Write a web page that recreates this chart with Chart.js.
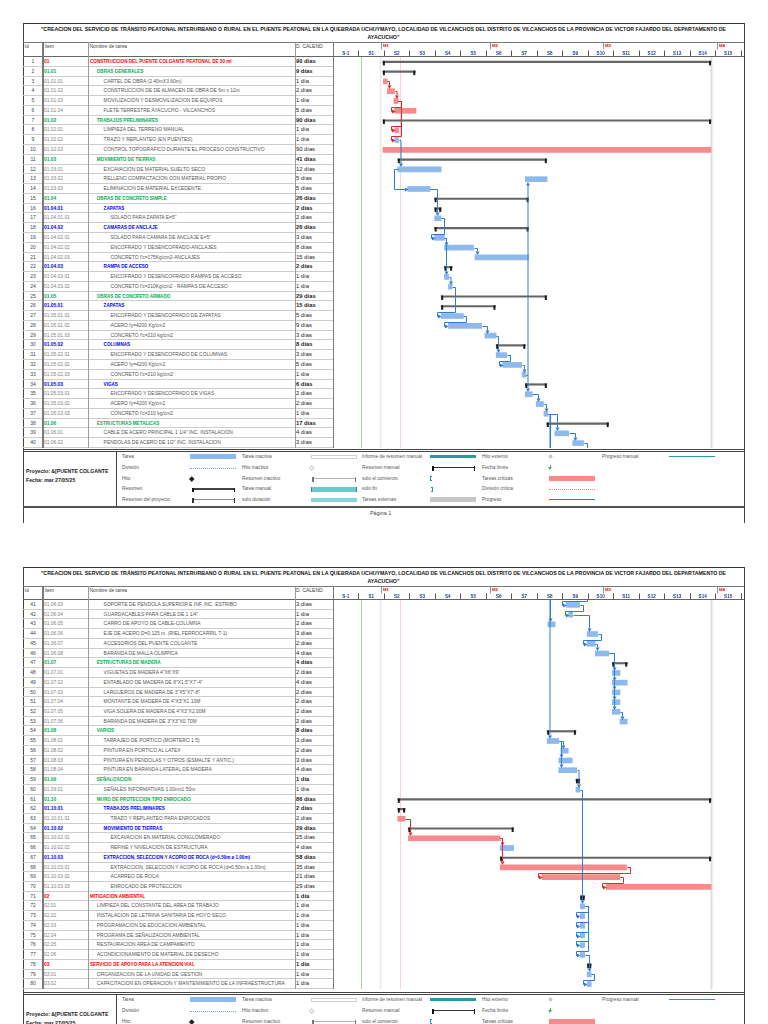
<!DOCTYPE html>
<html lang="es">
<head>
<meta charset="utf-8">
<title>Cronograma - Puente Colgante</title>
<script src="https://cdn.jsdelivr.net/npm/chart.js@4.4.1/dist/chart.umd.min.js"></script>
<style>
  html, body { margin: 0; padding: 0; background: #fff; }
  body { width: 768px; height: 1024px; position: relative; overflow: hidden; font-family: 'Liberation Sans', Arial, sans-serif; color: #333; }
  .a { position: absolute; white-space: nowrap; }
  .ln { position: absolute; }
</style>
</head>
<body>
<script>
// ---- datos del cronograma ----
var taskItems = [
  '01','01.01','01.01.01','01.01.02','01.01.03','01.01.04','01.02','01.02.01','01.02.02','01.02.03',
  '01.03','01.03.01','01.03.02','01.03.03','01.04','01.04.01','01.04.01.01','01.04.02','01.04.02.01','01.04.02.02',
  '01.04.02.03','01.04.03','01.04.03.01','01.04.03.02','01.05','01.05.01','01.05.01.01','01.05.01.02','01.05.01.03','01.05.02',
  '01.05.02.01','01.05.02.02','01.05.02.03','01.05.03','01.05.03.01','01.05.03.02','01.05.03.03','01.06','01.06.01','01.06.02',
  '01.06.03','01.06.04','01.06.05','01.06.06','01.06.07','01.06.08','01.07','01.07.01','01.07.02','01.07.03',
  '01.07.04','01.07.05','01.07.06','01.08','01.08.01','01.08.02','01.08.03','01.08.04','01.09','01.09.01',
  '01.10','01.10.01','01.10.01.01','01.10.02','01.10.02.01','01.10.02.02','01.10.03','01.10.03.01','01.10.03.02','01.10.03.03',
  '02','02.01','02.02','02.03','02.04','02.05','02.06','03','03.01','03.02'
];

var taskNames = [
  'CONSTRUCCION DEL PUENTE COLGANTE PEATONAL DE 30 ml',
  'OBRAS GENERALES',
  'CARTEL DE OBRA (2.40mX3.60m)',
  'CONSTRUCCION DE DE ALMACEN DE OBRA DE 6m x 12m',
  'MOVILIZACION Y DESMOVILIZACION DE EQUIPOS',
  'FLETE TERRESTRE AYACUCHO - VILCANCHOS',
  'TRABAJOS PRELIMINARES',
  'LIMPIEZA DEL TERRENO MANUAL',
  'TRAZO Y REPLANTEO (EN PUENTES)',
  'CONTROL TOPOGRAFICO DURANTE EL PROCESO CONSTRUCTIVO',
  'MOVIMIENTO DE TIERRAS',
  'EXCAVACION DE MATERIAL SUELTO SECO',
  'RELLENO COMPACTACION CON MATERIAL PROPIO',
  'ELIMINACION DE MATERIAL EXCEDENTE',
  'OBRAS DE CONCRETO SIMPLE',
  'ZAPATAS',
  'SOLADO PARA ZAPATA E=5"',
  'CAMARAS DE ANCLAJE',
  'SOLADO PARA CAMARA DE ANCLAJE E=5"',
  'ENCOFRADO Y DESENCOFRADO-ANCLAJES',
  "CONCRETO f'c=175Kg/cm2-ANCLAJES",
  'RAMPA DE ACCESO',
  'ENCOFRADO Y DESENCOFRADO RAMPAS DE ACCESO',
  "CONCRETO f'c=210Kg/cm2 - RAMPAS DE ACCESO",
  'OBRAS DE CONCRETO ARMADO',
  'ZAPATAS',
  'ENCOFRADO Y DESENCOFRADO DE ZAPATAS',
  'ACERO fy=4200 Kg/cm2',
  "CONCRETO f'c=210 kg/cm2",
  'COLUMNAS',
  'ENCOFRADO Y DESENCOFRADO DE COLUMNAS',
  'ACERO fy=4200 Kg/cm2',
  "CONCRETO f'c=210 kg/cm2",
  'VIGAS',
  'ENCOFRADO Y DESENCOFRADO DE VIGAS',
  'ACERO fy=4200 Kg/cm2',
  "CONCRETO f'c=210 kg/cm2",
  'ESTRUCTURAS METALICAS',
  'CABLE DE ACERO PRINCIPAL 1 1/4" INC. INSTALACION',
  'PENDOLAS DE ACERO DE 1/2" INC. INSTALACION',
  'SOPORTE DE PENDOLA SUPERIOR E INF. INC. ESTRIBO',
  'GUARDACABLES PARA CABLE DE 1 1/4"',
  'CARRO DE APOYO DE CABLE-COLUMNA',
  'EJE DE ACERO D=0.125 m. (RIEL FERROCARRIL T-1)',
  'ACCESORIOS DEL PUENTE COLGANTE',
  'BARANDA DE MALLA OLIMPICA',
  'ESTRUCTURAS DE MADERA',
  'VIGUETAS DE MADERA 4"X6"X9\'',
  'ENTABLADO DE MADERA DE 8"X1.5"X7\'-4"',
  'LARGUEROS DE MADERA DE 3"X5"X7\'-8"',
  'MONTANTE DE MADERA DE 4"X3"X1.10M',
  'VIGA SOLERA DE MADERA DE 4"X3"X2.00M',
  'BARANDA DE MADERA DE 3"X3"X0.70M',
  'VARIOS',
  'TARRAJEO DE PORTICO (MORTERO 1:5)',
  'PINTURA EN PORTICO AL LATEX',
  'PINTURA EN PENDOLAS Y OTROS (ESMALTE Y ANTIC.)',
  'PINTURA EN BARANDA LATERAL DE MADERA',
  'SEÑALIZACION',
  'SEÑALES INFORMATIVAS 1.00mx1.50m',
  'MURO DE PROTECCION TIPO ENROCADO',
  'TRABAJOS PRELIMINARES',
  'TRAZO Y REPLANTEO PARA ENROCADOS',
  'MOVIMIENTO DE TIERRAS',
  'EXCAVACION EN MATERIAL CONGLOMERADO',
  'REFINE Y NIVELACION DE ESTRUCTURA',
  'EXTRACCION, SELECCION Y ACOPIO DE ROCA (d=0.50m a 1.00m)',
  'EXTRACCION, SELECCION Y ACOPIO DE ROCA (d=0.50m a 1.00m)',
  'ACARREO DE ROCA',
  'ENROCADO DE PROTECCION',
  'MITIGACION AMBIENTAL',
  'LIMPIEZA DEL CONSTANTE DEL AREA DE TRABAJO',
  'INSTALACION DE LETRINA SANITARIA DE HOYO SECO',
  'PROGRAMACION DE EDUCACION AMBIENTAL',
  'PROGRAMA DE SEÑALIZACION AMBIENTAL',
  'RESTAURACION AREA DE CAMPAMENTO',
  'ACONDICIONAMIENTO DE MATERIAL DE DESECHO',
  'SERVICIO DE APOYO PARA LA ATENCION VIAL',
  'ORGANIZACION DE LA UNIDAD DE GESTION',
  'CAPACITACION EN OPERACION Y MANTENIMIENTO DE LA INFRAESTRUCTURA'
];

var taskDurations = [
  '90 días','9 días','1 día','2 días','1 día','5 días','90 días','1 día','1 día','90 días',
  '41 días','12 días','5 días','5 días','26 días','2 días','2 días','26 días','3 días','8 días',
  '15 días','2 días','1 día','1 día','29 días','15 días','5 días','9 días','3 días','8 días',
  '3 días','5 días','1 día','6 días','2 días','2 días','1 día','17 días','4 días','3 días',
  '3 días','1 día','2 días','3 días','2 días','4 días','4 días','2 días','4 días','2 días',
  '2 días','2 días','2 días','8 días','3 días','2 días','3 días','4 días','1 día','1 día',
  '86 días','2 días','2 días','29 días','25 días','4 días','58 días','35 días','21 días','29 días',
  '1 día','1 día','1 día','1 día','1 día','1 día','1 día','1 día','1 día','1 día'
];

// inicio y fin de cada barra, en días desde el comienzo de la semana S-1
var barStart = [
  13.7, 13.7, 13.8, 14.9, 16.7, 16.9, 13.7, 17.0, 17.0, 13.7,
  17.8, 17.8, 52.8, 20.5, 27.9, 27.9, 27.9, 27.9, 27.9, 30.6,
  39.0, 30.6, 30.6, 31.7, 29.7, 29.7, 29.7, 31.7, 41.7, 44.8,
  44.8, 46.6, 51.9, 52.8, 52.8, 55.8, 57.9, 58.7, 60.9, 65.8,
  64.0, 64.7, 59.0, 69.8, 69.8, 72.0, 76.7, 76.7, 76.7, 76.7,
  76.7, 76.7, 78.8, 58.8, 58.8, 62.6, 62.0, 62.0, 66.7, 66.7,
  17.8, 17.8, 17.8, 20.7, 20.7, 45.9, 45.9, 45.9, 57.4, 75.0,
  67.9, 67.9, 67.9, 67.9, 67.9, 67.9, 67.9, 69.8, 69.8, 69.8
];
var barEnd = [
  103.8, 22.6, 14.9, 16.9, 17.9, 22.8, 103.8, 18.0, 18.0, 103.8,
  58.7, 29.7, 58.8, 26.7, 53.7, 29.7, 29.7, 53.7, 30.6, 38.6,
  53.7, 32.7, 31.8, 32.7, 58.7, 44.6, 35.8, 40.8, 44.8, 52.8,
  47.7, 51.8, 53.0, 58.7, 54.7, 57.8, 59.0, 75.7, 64.7, 68.8,
  67.7, 65.8, 61.0, 72.7, 72.0, 75.7, 80.8, 78.8, 80.8, 78.8,
  78.8, 78.8, 80.8, 66.7, 62.0, 64.6, 65.7, 66.9, 67.8, 67.8,
  103.8, 19.8, 19.8, 49.6, 45.9, 49.6, 103.8, 80.6, 78.8, 103.8,
  69.1, 69.1, 69.1, 69.1, 69.1, 69.1, 69.1, 70.9, 70.9, 70.9
];

var summaryRows = [1, 2, 7, 11, 15, 16, 18, 22, 25, 26, 30, 34, 38, 47, 54, 59, 61, 62, 64, 67, 71, 78];
var criticalRows = [3, 4, 5, 6, 8, 10, 63, 65, 68, 69, 70];

// vínculos [predecesora, sucesora, tipo]
var links = [
  [3,4],[4,5],[5,6],[5,8],[5,9],[9,12],[12,14,'SS'],[14,17],[17,19],[19,20],[20,21],[19,23],[23,24],
  [24,27],[27,28],[28,29],[29,31],[31,32],[32,33],[33,35],[33,13],[35,36],[36,37],[37,39],[37,43],[37,55],
  [39,40],[40,41],[41,42],[42,44],[44,45],[45,46],[46,48],[46,49],[46,50],[46,51],[46,52],[52,53],
  [55,56],[55,57],[55,58],[58,60],[60,72],[72,73],[72,74],[72,75],[72,76],[72,77],[77,79],[79,80],
  [63,65],[65,66],[65,68],[68,69],[69,70]
];

var weekLabels = ['S-1','S1','S2','S3','S4','S5','S6','S7','S8','S9','S10','S11','S12','S13','S14','S15'];
var monthLabels = ['M1','M2','M3','M4'];
var monthDays = [13.2, 43.1, 74.1, 105.3];
var markerDays = [7.8, 12.8, 18.3, 103.8];

var titleLines = [
  '"CREACION DEL SERVICIO DE TRÁNSITO PEATONAL INTERURBANO O RURAL EN EL PUENTE PEATONAL EN LA QUEBRADA UCHUYMAYO, LOCALIDAD DE VILCANCHOS DEL DISTRITO DE VILCANCHOS DE LA PROVINCIA DE VICTOR FAJARDO DEL DEPARTAMENTO DE',
  'AYACUCHO"'
];

var levelColors = ['#ff0000', '#00b050', '#0000ff'];

// ---- helpers html ----
function line(x, y, w, h, c) {
  return '<div class="ln" style="left:' + x + 'px;top:' + y + 'px;width:' + w + 'px;height:' + h + 'px;background:' + c + '"></div>';
}
function text(x, y, s, css) {
  return '<div class="a" style="left:' + x + 'px;top:' + y + 'px;' + css + '">' + s + '</div>';
}
function diamond(x, y, s, fill, border) {
  return '<div class="ln" style="left:' + (x - s / 2) + 'px;top:' + (y - s / 2) + 'px;width:' + s + 'px;height:' + s + 'px;background:' + fill +
    ';border:' + border + ';box-sizing:border-box;transform:rotate(45deg)"></div>';
}
function bracket(x, y, w, lc, cc, lh) {
  return line(x, y - 1, w, lh, lc) + line(x, y - 1.5, 1.5, 4.5, cc) + line(x + w - 1.5, y - 1.5, 1.5, 4.5, cc);
}

function sym(t, x, y) {
  switch (t) {
    case 'task': return line(x, y - 2.5, 46, 5, '#8db9ec');
    case 'split': return '<div class="ln" style="left:' + x + 'px;top:' + y + 'px;width:46px;border-top:1px dotted #6fa6e6"></div>';
    case 'mile': return diamond(x + 2, y, 3.5, '#222', 'none');
    case 'sum': return bracket(x + 2, y, 43, '#444', '#111', 1.5);
    case 'psum': return bracket(x + 2, y, 43, '#8a8a8a', '#333', 1.5);
    case 'itask': return '<div class="ln" style="left:' + x + 'px;top:' + (y - 2) + 'px;width:46px;height:4px;border:1px solid #cfcfcf;box-sizing:border-box"></div>';
    case 'imile': return diamond(x + 1, y, 3.5, '#fff', '1px solid #c8c8c8');
    case 'isum': return bracket(x + 1, y, 44, '#b5b5b5', '#777', 1);
    case 'mtask': return line(x, y - 2.5, 46, 5, '#6cc7d1') + line(x, y - 2.5, 1.2, 5, '#1b8f9a') + line(x + 44.8, y - 2.5, 1.2, 5, '#1b8f9a');
    case 'dur': return line(x, y - 2, 46, 4.5, '#87d3dc');
    case 'msumrep': return line(x, y - 1.5, 46, 3, '#2a9aa6');
    case 'msum': return bracket(x + 2, y, 43, '#333', '#111', 1);
    case 'start': return '<div class="ln" style="left:' + x + 'px;top:' + (y - 2.5) + 'px;width:2px;height:5px;border:1.3px solid #1f9aa5;border-right:none;box-sizing:border-box"></div>';
    case 'finish': return '<div class="ln" style="left:' + (x + 1) + 'px;top:' + (y - 2.5) + 'px;width:2px;height:5px;border:1.3px solid #1f9aa5;border-left:none;box-sizing:border-box"></div>';
    case 'ext': return line(x, y - 2.5, 46, 5, '#c6c6c6');
    case 'emile': return diamond(x + 1, y, 3, '#fff', '1px solid #aaa');
    case 'deadline': return line(x + 0.5, y - 3, 1, 2, '#4caf50') +
      '<div class="ln" style="left:' + (x - 1) + 'px;top:' + (y - 1) + 'px;width:0;height:0;border-left:2px solid transparent;border-right:2px solid transparent;border-top:3px solid #4caf50"></div>';
    case 'crit': return line(x, y - 2.5, 46, 5, '#f78a8a');
    case 'csplit': return '<div class="ln" style="left:' + x + 'px;top:' + y + 'px;width:46px;border-top:1px dotted #f07a7a"></div>';
    case 'prog': return line(x, y - 0.75, 46, 1.5, '#2d7bd8');
    case 'mprog': return line(x, y - 0.75, 46, 1.5, '#22a0aa');
  }
  return '';
}

var legendCols = [
  { x: 122, sx: 190, items: [['Tarea', 'task'], ['División', 'split'], ['Hito', 'mile'], ['Resumen', 'sum'], ['Resumen del proyecto', 'psum']] },
  { x: 242, sx: 311, items: [['Tarea inactiva', 'itask'], ['Hito inactivo', 'imile'], ['Resumen inactivo', 'isum'], ['Tarea manual', 'mtask'], ['solo duración', 'dur']] },
  { x: 362, sx: 430, items: [['Informe de resumen manual', 'msumrep'], ['Resumen manual', 'msum'], ['solo el comienzo', 'start'], ['solo fin', 'finish'], ['Tareas externas', 'ext']] },
  { x: 482, sx: 549, items: [['Hito externo', 'emile'], ['Fecha límite', 'deadline'], ['Tareas críticas', 'crit'], ['División crítica', 'csplit'], ['Progreso', 'prog']] },
  { x: 602, sx: 669, items: [['Progreso manual', 'mprog']] }
];

function legend(T) {
  var h = '';
  h += line(23, T, 721, 1, '#444') + line(23, T + 2, 721, 1, '#444');
  h += line(116, T + 3, 1, 54, '#444');
  h += line(23, T + 57, 721, 1.5, '#555');
  h += text(26, T + 18.5, 'Proyecto: &amp;[PUENTE COLGANTE', 'font-weight:bold;font-size:5.2px;line-height:6px;color:#222');
  h += text(26, T + 27.5, 'Fecha: mar 27/05/25', 'font-weight:bold;font-size:5.2px;line-height:6px;color:#222');
  var ys = [7.5, 18.5, 29.5, 40, 50.5];
  legendCols.forEach(function (c) {
    c.items.forEach(function (it, k) {
      var y = T + ys[k];
      h += text(c.x, y - 3, it[0], 'font-size:4.8px;line-height:6px;color:#555');
      h += sym(it[1], c.sx, y);
    });
  });
  return h;
}

function buildPage(p) {
  var h = '';
  var L = 23, R = 744;
  var rowsBottom = p.rowTop + (p.last - p.first + 1) * p.rowH;
  h += line(L, p.top, R - L + 1, 1, '#333');
  h += line(L, p.top, 1, p.boxBottom - p.top, '#444');
  h += line(R, p.top, 1, p.boxBottom - p.top, '#444');
  h += '<div class="a" style="left:' + L + 'px;top:' + (p.top + 3) + 'px;width:' + (R - L) + 'px;text-align:center;font-weight:bold;font-size:5.25px;line-height:7.5px;color:#111">' +
    titleLines[0] + '<br>' + titleLines[1] + '</div>';
  h += line(L, p.headTop, R - L, 1, '#777');

  var hc = 'font-size:5px;line-height:7px;color:#444';
  h += text(24.5, p.headTop + 1, 'Id', hc);
  h += text(44.5, p.headTop + 1, 'Item', hc);
  h += text(89.5, p.headTop + 1, 'Nombre de tarea', hc);
  h += text(296, p.headTop + 1, 'D. CALEND.', hc);

  for (var r = p.first; r <= p.last; r++) {
    var i = r - 1, y = p.rowTop + (r - p.first) * p.rowH;
    var depth = taskItems[i].split('.').length;
    var isSum = summaryRows.indexOf(r) >= 0;
    var col = isSum ? levelColors[depth - 1] : '#555';
    var cell = 'top:' + y.toFixed(2) + 'px;height:' + p.rowH + 'px;line-height:' + p.rowH + 'px;';
    h += '<div class="a" style="' + cell + 'left:23px;width:20px;text-align:center;font-size:5px;color:#444">' + r + '</div>';
    h += '<div class="a" style="' + cell + 'left:44px;font-size:4.9px;color:' + (isSum ? col + ';font-weight:bold' : '#808080') + '">' + taskItems[i] + '</div>';
    h += '<div class="a" style="' + cell + 'left:' + (90 + (depth - 1) * 6.8).toFixed(1) + 'px;font-size:' + (isSum ? '4.6px;font-weight:bold' : '4.95px') + ';color:' + col + '">' + taskNames[i] + '</div>';
    h += '<div class="a" style="' + cell + 'left:296px;font-size:5.8px;color:#222' + (isSum ? ';font-weight:bold' : '') + '">' + taskDurations[i] + '</div>';
    h += line(L, (y + p.rowH - 1).toFixed(2), 310, 1, '#cdcdcd');
  }

  h += line(L, p.rowTop - 1, R - L, 1, '#666');
  h += line(42, p.headTop, 1.5, rowsBottom - p.headTop, '#7a7a7a');
  h += line(88, p.headTop, 1, rowsBottom - p.headTop, '#9a9a9a');
  h += line(295, p.headTop, 1, rowsBottom - p.headTop, '#9a9a9a');
  h += line(333, p.headTop, 1, rowsBottom - p.headTop, '#777');

  h += legend(p.legendTop);
  if (p.pageLabel) h += text(370, p.legendTop + 61, p.pageLabel, 'font-size:5.4px;line-height:7px;color:#444');

  h += '<canvas id="' + p.canvasId + '" width="409" height="' + Math.round(rowsBottom - p.headTop) +
    '" style="position:absolute;left:333px;top:' + p.headTop + 'px"></canvas>';
  var d = document.createElement('div');
  d.innerHTML = h;
  document.body.appendChild(d);
}

var pages = [
  { top: 23, headTop: 42, rowTop: 57, rowH: 9.775, first: 1, last: 40, legendTop: 449, boxBottom: 523, canvasId: 'gantt1', pageLabel: 'Página 1' },
  { top: 567, headTop: 586, rowTop: 600, rowH: 9.725, first: 41, last: 80, legendTop: 992, boxBottom: 1030, canvasId: 'gantt2', pageLabel: '' }
];
pages.forEach(buildPage);

// ---- plugin del diagrama de Gantt ----
function arrow(ctx, x, y, dir) {
  ctx.beginPath();
  if (dir === 'd') { ctx.moveTo(x - 2, y - 3.5); ctx.lineTo(x + 2, y - 3.5); ctx.lineTo(x, y); }
  else if (dir === 'u') { ctx.moveTo(x - 2, y + 3.5); ctx.lineTo(x + 2, y + 3.5); ctx.lineTo(x, y); }
  else { ctx.moveTo(x - 3.5, y - 2); ctx.lineTo(x - 3.5, y + 2); ctx.lineTo(x, y); }
  ctx.closePath();
  ctx.fill();
}

var ganttPlugin = {
  id: 'gantt',
  beforeDatasetsDraw: function (chart, args, opts) {
    var ctx = chart.ctx, a = chart.chartArea, xs = chart.scales.x;
    ctx.save();
    var markerStyles = [['#a6d49b', 1], ['#e8e8e8', 1.5], ['#f9d3d3', 1], ['#dedede', 2]];
    markerDays.forEach(function (d, k) {
      var px = Math.round(xs.getPixelForValue(d)) + 0.5;
      ctx.strokeStyle = markerStyles[k][0];
      ctx.lineWidth = markerStyles[k][1];
      ctx.beginPath(); ctx.moveTo(px, a.top); ctx.lineTo(px, a.bottom); ctx.stroke();
    });
    ctx.strokeStyle = '#555'; ctx.lineWidth = 1;
    for (var k = 1; k <= weekLabels.length; k++) {
      var px = Math.round(xs.getPixelForValue(k * 7)) + 0.5;
      ctx.beginPath(); ctx.moveTo(px, a.top - 6.5); ctx.lineTo(px, a.top - 1); ctx.stroke();
    }
    ctx.font = 'bold 4.3px "Liberation Sans"';
    ctx.textBaseline = 'middle';
    monthDays.forEach(function (d, k) {
      var px = Math.round(xs.getPixelForValue(d)) + 0.5;
      ctx.strokeStyle = '#999';
      ctx.beginPath(); ctx.moveTo(px, 1); ctx.lineTo(px, 7.5); ctx.stroke();
      ctx.fillStyle = '#e00000';
      ctx.fillText(monthLabels[k], px + 1.5, 3.8);
    });
    ctx.restore();
  },
  afterDatasetsDraw: function (chart, args, opts) {
    var ctx = chart.ctx, a = chart.chartArea, xs = chart.scales.x, ys = chart.scales.y;
    var first = opts.first, last = opts.last;
    var rh = (a.bottom - a.top) / (last - first + 1);
    function rowY(r) {
      if (r < first) return a.top - 20;
      if (r > last) return a.bottom + 20;
      return ys.getPixelForValue(r - first);
    }
    function X(v) { return Math.round(xs.getPixelForValue(v)) + 0.5; }
    ctx.save();
    // remates del resumen
    ctx.fillStyle = '#1a1a1a';
    summaryRows.forEach(function (r) {
      if (r < first || r > last) return;
      var y = rowY(r), x1 = xs.getPixelForValue(barStart[r - 1]), x2 = xs.getPixelForValue(barEnd[r - 1]);
      ctx.fillRect(x1, y - 1, 2, 4.5);
      ctx.fillRect(x2 - 2, y - 1, 2, 4.5);
    });
    // vínculos
    ctx.beginPath(); ctx.rect(a.left, a.top, a.right - a.left, a.bottom - a.top); ctx.clip();
    ctx.lineWidth = 1;
    links.forEach(function (l) {
      var p = l[0], s = l[1];
      if ((p > last && s > last) || (p < first && s < first)) return;
      var col = criticalRows.indexOf(p) >= 0 ? '#e3262a' : '#2d7bd8';
      ctx.strokeStyle = col; ctx.fillStyle = col;
      var y1 = Math.round(rowY(p)) + 0.5, y2 = Math.round(rowY(s)) + 0.5;
      var xPs = X(barStart[p - 1]), xPe = X(barEnd[p - 1]), xS = X(barStart[s - 1]);
      ctx.beginPath();
      if (l[2] === 'SS') {
        ctx.moveTo(xPs, y1); ctx.lineTo(xPs - 4, y1); ctx.lineTo(xPs - 4, y2); ctx.lineTo(xS - 3, y2); ctx.stroke();
        arrow(ctx, xS, y2, 'r');
      } else if (xS >= xPe - 1.5) {
        var xv = Math.max(xS + 2, xPe + 1.5);
        var down = s > p;
        ctx.moveTo(xPe, y1); ctx.lineTo(xv, y1); ctx.lineTo(xv, down ? y2 - 6 : y2 + 6); ctx.stroke();
        arrow(ctx, xv, down ? y2 - 2.5 : y2 + 2.5, down ? 'd' : 'u');
      } else {
        var ym = Math.round(y2 - rh / 2) + 0.5;
        ctx.moveTo(xPe, y1); ctx.lineTo(xPe + 3, y1); ctx.lineTo(xPe + 3, ym); ctx.lineTo(xS - 4, ym);
        ctx.lineTo(xS - 4, y2); ctx.lineTo(xS - 3, y2); ctx.stroke();
        arrow(ctx, xS, y2, 'r');
      }
    });
    ctx.restore();
  }
};

function makeGantt(id, first, last, headH) {
  var rows = [];
  for (var r = first; r <= last; r++) rows.push(r);
  var isSum = function (r) { return summaryRows.indexOf(r) >= 0; };
  var isCrit = function (r) { return criticalRows.indexOf(r) >= 0; };
  var spans = function (test) {
    return rows.map(function (r) { return test(r) ? [barStart[r - 1], barEnd[r - 1]] : null; });
  };
  return new Chart(document.getElementById(id), {
    type: 'bar',
    data: {
      labels: rows.map(String),
      datasets: [
        { label: 'Resumen', data: spans(isSum), backgroundColor: '#666666', barThickness: 1.5, grouped: false },
        { label: 'Tarea', data: spans(function (r) { return !isSum(r) && !isCrit(r); }), backgroundColor: '#8db9ec', barThickness: 5, grouped: false },
        { label: 'Tareas críticas', data: spans(isCrit), backgroundColor: '#f78a8a', barThickness: 5, grouped: false }
      ]
    },
    options: {
      indexAxis: 'y',
      responsive: false,
      animation: false,
      devicePixelRatio: 1,
      layout: { padding: 0 },
      plugins: {
        legend: { display: false },
        tooltip: { enabled: false },
        gantt: { first: first, last: last }
      },
      scales: {
        x: {
          type: 'linear',
          position: 'top',
          min: 0,
          max: 112.3,
          grid: { display: false, drawTicks: false },
          border: { display: false },
          afterBuildTicks: function (s) {
            s.ticks = weekLabels.map(function (l, i) { return { value: i * 7 + 3.5 }; });
          },
          afterFit: function (s) { s.height = headH; },
          ticks: {
            autoSkip: false,
            maxRotation: 0,
            padding: 1,
            color: '#203f8c',
            font: { family: 'Liberation Sans', size: 4.6, weight: 'bold' },
            callback: function (v, i) { return weekLabels[i]; }
          }
        },
        y: { display: false, offset: true }
      }
    },
    plugins: [ganttPlugin]
  });
}

makeGantt('gantt1', 1, 40, 15);
makeGantt('gantt2', 41, 80, 14);
</script>
</body>
</html>
